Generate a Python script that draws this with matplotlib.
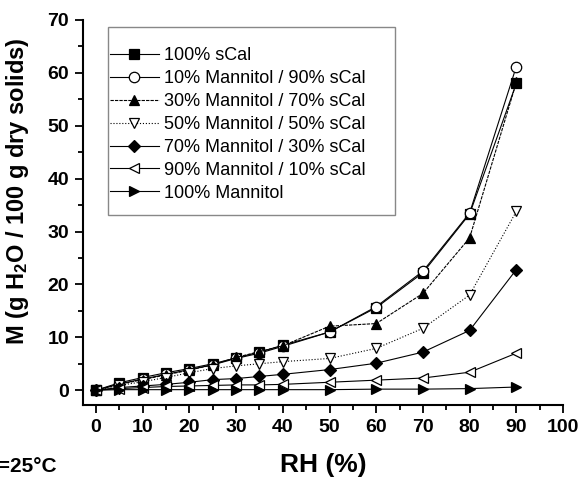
import matplotlib
matplotlib.use("Agg")
import matplotlib.pyplot as plt
from matplotlib.patches import Rectangle
from matplotlib.ticker import MultipleLocator

plt.rcParams['font.family'] = ['Liberation Sans', 'DejaVu Sans']
plt.rcParams['mathtext.fontset'] = 'custom'
plt.rcParams['mathtext.rm'] = 'Liberation Sans:bold'
plt.rcParams['mathtext.bf'] = 'Liberation Sans:bold'
plt.rcParams['mathtext.it'] = 'Liberation Sans:bold'

rh = [0, 5, 10, 15, 20, 25, 30, 35, 40, 50, 60, 70, 80, 90]
scal100 = [0, 1.4, 2.4, 3.3, 4.1, 5.0, 6.1, 7.2, 8.5, 11.0, 15.6, 22.2, 33.3, 58.0]
m10 = [0, 1.2, 2.1, 3.0, 3.9, 4.8, 6.0, 7.0, 8.3, 11.0, 15.8, 22.5, 33.5, 61.2]
m30 = [0, 1.1, 2.0, 2.9, 3.8, 4.8, 6.2, 7.3, 8.4, 12.1, 12.6, 18.3, 28.8, 58.2]
m50 = [0, 0.9, 1.6, 2.4, 3.3, 4.1, 4.6, 5.0, 5.4, 6.0, 7.9, 11.7, 18.0, 33.8]
m70 = [0, 0.5, 0.8, 1.1, 1.5, 2.0, 2.2, 2.6, 3.0, 3.9, 5.1, 7.2, 11.3, 22.8]
m90 = [0, 0.3, 0.5, 0.7, 0.8, 0.9, 1.0, 1.0, 1.1, 1.5, 1.9, 2.3, 3.4, 7.0]
m100 = [0, 0.1, 0.1, 0.1, 0.1, 0.1, 0.1, 0.1, 0.1, 0.1, 0.2, 0.2, 0.3, 0.6]

labels = ["100% sCal", "10% Mannitol / 90% sCal", "30% Mannitol / 70% sCal",
          "50% Mannitol / 50% sCal", "70% Mannitol / 30% sCal",
          "90% Mannitol / 10% sCal", "100% Mannitol"]

fig = plt.figure(figsize=(5.84, 4.79), dpi=100)
ax = fig.add_axes([83/584, 1-405/479, (563-83)/584, (405-20)/479])

styles = [
    (scal100, 's', 'black', '-'),
    (m10, 'o', 'white', '-'),
    (m30, '^', 'black', (0, (3, 1))),
    (m50, 'v', 'white', ':'),
    (m70, 'D', 'black', '-'),
    (m90, '<', 'white', '-'),
    (m100, '>', 'black', '-'),
]
for (vals, mk, fc, ls), lab in zip(styles, labels):
    ms = 6.5 if mk == 'D' else 7.5
    ax.plot(rh, vals, marker=mk, markersize=ms, markerfacecolor=fc,
            markeredgecolor='black', markeredgewidth=0.9, color='black',
            linewidth=0.8, linestyle=ls, label=lab)

ax.set_xlim(-2.8, 100)
ax.set_ylim(-2.8, 70)
ax.xaxis.set_major_locator(MultipleLocator(10))
ax.xaxis.set_minor_locator(MultipleLocator(5))
ax.yaxis.set_major_locator(MultipleLocator(10))
ax.yaxis.set_minor_locator(MultipleLocator(5))
for s in ['top', 'right']:
    ax.spines[s].set_visible(False)
for s in ['left', 'bottom']:
    ax.spines[s].set_linewidth(1.5)
ax.tick_params(which='major', direction='out', length=6, width=1.3,
               labelsize=14, pad=4)
ax.tick_params(which='minor', direction='out', length=3.5, width=1.3)
for t in ax.get_xticklabels() + ax.get_yticklabels():
    t.set_fontweight('bold')

ax.set_xlabel('RH (%)', fontsize=19, fontweight='bold', labelpad=12)
ax.set_ylabel(r'M (g H$_{2}$O / 100 g dry solids)', fontsize=17,
              fontweight='bold')
ax.yaxis.set_label_coords(-0.108, 0.556)

# legend box
rect = Rectangle((108/584, 1-215/479), (395-108)/584, (215-27)/479,
                 transform=fig.transFigure, facecolor='white',
                 edgecolor='#888888', linewidth=1.0, zorder=4, clip_on=False)
ax.add_patch(rect)
leg = ax.legend(loc='upper left', bbox_to_anchor=(110/584, 1-47/479),
                bbox_transform=fig.transFigure, frameon=False,
                fontsize=13, handlelength=2.7, handletextpad=0.3,
                labelspacing=0.33, borderaxespad=0, borderpad=0)
leg.set_zorder(6)

fig.text(57/584, 1-472/479, 'T=25°C', ha='right', va='baseline',
         fontsize=15, fontweight='bold')

fig.savefig('out.png', dpi=100)
